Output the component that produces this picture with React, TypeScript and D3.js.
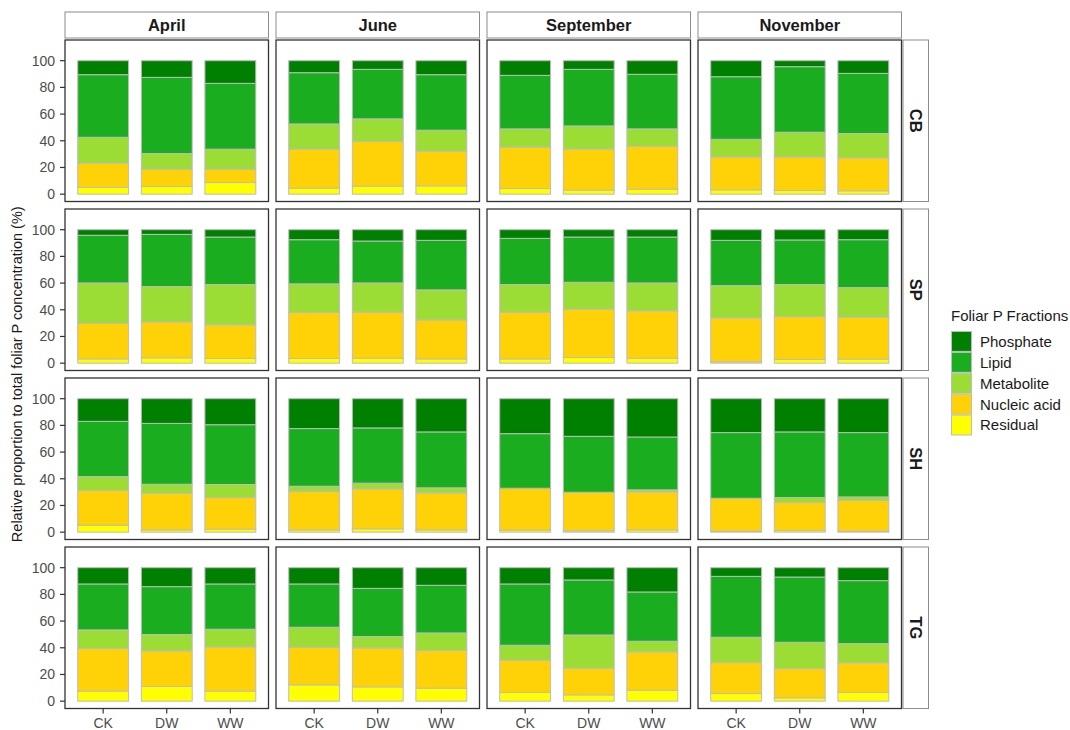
import React from "react";
import * as d3 from "d3";

const months = ["April", "June", "September", "November"];
const sites = ["CB", "SP", "SH", "TG"];
const treatments = ["CK", "DW", "WW"];
const fractions = ["Residual", "Nucleic acid", "Metabolite", "Lipid", "Phosphate"];
const legendOrder = ["Phosphate", "Lipid", "Metabolite", "Nucleic acid", "Residual"];
const fractionColors = ["#FFFF00", "#FFD107", "#9BDD35", "#19AD1F", "#008000"];
const yTicks = [0, 20, 40, 60, 80, 100];

// order: site (CB, SP, SH, TG) -> month (Apr, Jun, Sep, Nov) -> treatment (CK, DW, WW)
const residual = [
  5.2, 5.7, 8.7, 4.5, 6.0, 6.2, 4.2, 3.0, 3.7, 3.2, 2.7, 2.5,
  3.2, 4.0, 3.5, 3.5, 3.7, 3.2, 3.2, 4.2, 3.7, 1.0, 2.7, 3.0,
  5.2, 1.7, 2.2, 1.7, 2.5, 1.7, 1.5, 1.0, 1.7, 0.7, 1.2, 0.7,
  7.5, 11.0, 7.5, 12.2, 10.7, 9.7, 6.5, 4.7, 8.2, 5.7, 2.5, 6.5,
];
const nucleicAcid = [
  18.0, 13.0, 10.0, 29.2, 33.4, 26.0, 31.0, 30.7, 32.2, 24.7, 25.2, 24.7,
  26.5, 26.9, 25.2, 34.4, 34.5, 29.2, 35.0, 36.2, 35.5, 32.9, 32.2, 31.4,
  26.0, 27.5, 23.7, 28.7, 29.9, 27.7, 31.2, 28.7, 28.5, 24.5, 21.0, 23.2,
  31.9, 26.7, 33.1, 28.2, 29.2, 28.2, 24.2, 20.0, 28.7, 23.2, 21.9, 22.2,
];
const metabolite = [
  19.4, 11.7, 15.0, 18.9, 17.0, 15.7, 13.7, 17.4, 13.0, 13.2, 18.5, 18.2,
  30.4, 26.5, 30.2, 21.5, 21.9, 22.5, 20.7, 20.2, 20.9, 24.2, 24.0, 22.2,
  10.4, 6.7, 9.8, 4.0, 4.3, 3.8, 0.2, 0.2, 1.5, 0.2, 3.7, 2.5,
  14.0, 12.2, 13.3, 15.0, 8.5, 13.2, 11.2, 24.9, 8.0, 19.0, 19.7, 14.4,
];
const lipid = [
  46.9, 57.1, 49.3, 38.4, 37.1, 41.6, 40.1, 42.4, 40.9, 46.9, 49.1, 45.1,
  35.7, 39.1, 35.6, 33.1, 31.4, 37.1, 34.6, 33.9, 34.4, 33.9, 33.4, 35.9,
  41.4, 45.6, 44.8, 43.2, 41.4, 41.9, 40.9, 41.9, 39.6, 49.2, 49.2, 48.2,
  34.4, 35.9, 33.9, 32.4, 36.1, 35.7, 45.9, 41.2, 36.9, 45.6, 48.9, 47.2,
];
const phosphate = [
  10.5, 12.5, 17.0, 9.0, 6.5, 10.5, 11.0, 6.5, 10.2, 12.0, 4.5, 9.5,
  4.2, 3.5, 5.5, 7.5, 8.5, 8.0, 6.5, 5.5, 5.5, 8.0, 7.7, 7.5,
  17.0, 18.5, 19.5, 22.4, 21.9, 24.9, 26.2, 28.2, 28.7, 25.4, 24.9, 25.4,
  12.2, 14.2, 12.2, 12.2, 15.5, 13.2, 12.2, 9.2, 18.2, 6.5, 7.0, 9.7,
];

const series = [residual, nucleicAcid, metabolite, lipid, phosphate];

const FONT = "'Liberation Sans', Arial, sans-serif";
const panelLeft = 65;
const panelTop = 40;
const panelW = 203.5;
const panelH = 161.5;
const colStep = 211;
const rowStep = 169;

export default function App() {
  const x = d3.scaleBand<string>().domain(treatments).range([0, panelW]).paddingInner(0.2).paddingOuter(0.2);
  const y = d3.scaleLinear().domain([-5.5, 115.5]).range([panelH, 0]);
  const color = d3.scaleOrdinal<string, string>().domain(fractions).range(fractionColors);

  const panels: React.ReactNode[] = [];
  sites.forEach((site, si) => {
    months.forEach((month, mi) => {
      const px = panelLeft + mi * colStep;
      const py = panelTop + si * rowStep;
      const rows = treatments.map((t, ti) => {
        const idx = si * 12 + mi * 3 + ti;
        const row: any = { treatment: t };
        fractions.forEach((f, fi) => (row[f] = series[fi][idx]));
        return row;
      });
      const stacked = d3.stack().keys(fractions)(rows);
      panels.push(
        <g key={site + month} transform={`translate(${px},${py})`}>
          <rect x={0} y={0} width={panelW} height={panelH} fill="#fff" />
          {stacked.map((layer) =>
            layer.map((d, i) => (
              <rect
                key={layer.key + i}
                x={x(treatments[i])}
                y={y(d[1])}
                width={x.bandwidth()}
                height={y(d[0]) - y(d[1])}
                fill={color(layer.key)}
                stroke="#bdbdbd"
                strokeWidth={1}
              />
            ))
          )}
          <rect x={0} y={0} width={panelW} height={panelH} fill="none" stroke="#333" strokeWidth={1.3} />
          {mi === 0 &&
            yTicks.map((t) => (
              <g key={t} transform={`translate(0,${y(t)})`}>
                <line x1={-5} x2={0} stroke="#333" strokeWidth={1.2} />
                <text x={-10} dy="0.35em" textAnchor="end" fontSize={14} fill="#4d4d4d" fontFamily={FONT}>
                  {t}
                </text>
              </g>
            ))}
          {si === sites.length - 1 &&
            treatments.map((t) => (
              <g key={t} transform={`translate(${x(t)! + x.bandwidth() / 2},${panelH})`}>
                <line y1={0} y2={5} stroke="#333" strokeWidth={1.2} />
                <text y={19.5} textAnchor="middle" fontSize={14} fill="#4d4d4d" fontFamily={FONT}>
                  {t}
                </text>
              </g>
            ))}
        </g>
      );
    });
  });

  const stripsTop = months.map((m, mi) => {
    const px = panelLeft + mi * colStep;
    return (
      <g key={m} transform={`translate(${px},12)`}>
        <rect x={0} y={0} width={panelW} height={26} fill="#fff" stroke="#8c8c8c" strokeWidth={1} />
        <text x={panelW / 2} y={13} dy="0.36em" textAnchor="middle" fontSize={16.5} fontWeight="bold" fill="#1a1a1a" fontFamily={FONT}>
          {m}
        </text>
      </g>
    );
  });

  const stripsRight = sites.map((s, si) => {
    const py = panelTop + si * rowStep;
    const sx = panelLeft + 3 * colStep + panelW + 1.5;
    return (
      <g key={s} transform={`translate(${sx},${py})`}>
        <rect x={0} y={0} width={25.5} height={panelH} fill="#fff" stroke="#8c8c8c" strokeWidth={1} />
        <text
          transform={`translate(${12.75},${panelH / 2}) rotate(90)`}
          dy="0.36em"
          textAnchor="middle"
          fontSize={16.5}
          fontWeight="bold"
          fill="#1a1a1a"
          fontFamily={FONT}
        >
          {s}
        </text>
      </g>
    );
  });

  const legend = (
    <g transform="translate(951,0)">
      <text x={0} y={321} fontSize={15} fill="#1a1a1a" fontFamily={FONT}>
        Foliar P Fractions
      </text>
      {legendOrder.map((f, i) => (
        <g key={f} transform={`translate(0,${331 + i * 20.9})`}>
          <rect x={0.5} y={0.5} width={20} height={19.9} fill={color(f)} stroke="#bdbdbd" strokeWidth={1} />
          <text x={29} y={10.5} dy="0.36em" fontSize={15} fill="#1a1a1a" fontFamily={FONT}>
            {f}
          </text>
        </g>
      ))}
    </g>
  );

  const midY = panelTop + (3 * rowStep + panelH) / 2;

  return (
    <svg width={1070} height={730} style={{ position: "absolute", left: 0, top: 0, background: "#fff" }}>
      <rect width={1070} height={730} fill="#fff" />
      {stripsTop}
      {stripsRight}
      {panels}
      <text
        transform={`translate(17,${midY}) rotate(-90)`}
        textAnchor="middle"
        dy="0.36em"
        fontSize={14.5}
        fill="#1a1a1a"
        fontFamily={FONT}
      >
        Relative proportion to total foliar P concentration (%)
      </text>
      {legend}
    </svg>
  );
}
